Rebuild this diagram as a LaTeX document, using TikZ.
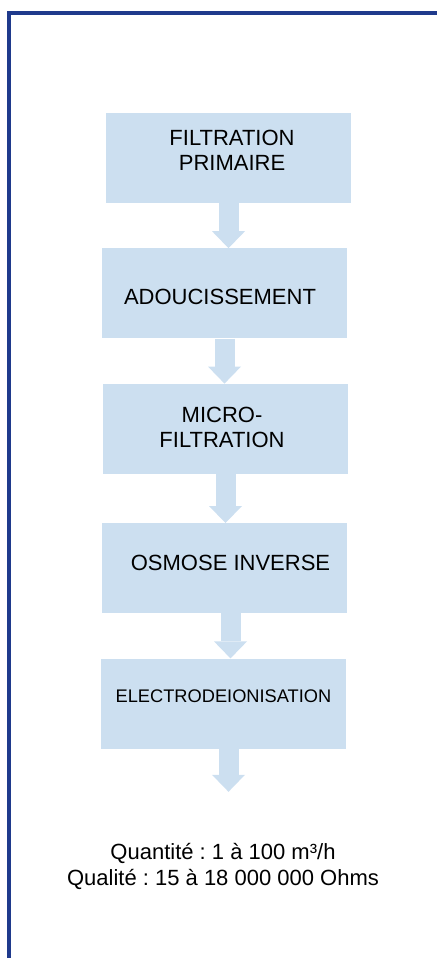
\documentclass[tikz,border=0pt]{standalone}
\usepackage{fontspec}
\setmainfont{Liberation Sans}
\usepackage{xcolor}
\usepackage{tikz}
\usetikzlibrary{arrows.meta,calc,positioning}
\definecolor{wtframe}{HTML}{1F3A8C}
\definecolor{wtfill}{HTML}{CCDFF0}
\frenchspacing
\tikzset{
  wtstage/.style={fill=wtfill,minimum width=245pt,minimum height=90pt,inner sep=0pt},
  wttext/.style={align=center,inner sep=0pt,font=\fontsize{22}{25}\selectfont,text=black},
  wtsmall/.style={wttext,font=\fontsize{18.25}{22}\selectfont},
  wtflow/.style={-{Triangle[length=17pt,width=33pt,line width=0pt]},line width=20pt,draw=wtfill},
  wtframeline/.style={draw=wtframe,line width=3.2pt},
  wtnote/.style={align=center,font=\fontsize{22}{26}\selectfont,text=black}
}

\begin{document}
\begin{tikzpicture}[x=1pt,y=-1pt,node distance=45pt]
    \useasboundingbox (0,0) rectangle (437,958);
    \draw[wtframeline] (9,958) -- (9,13) -- (437,13);
    \node[wtstage] (s1) at (228.5,158) {};
    \node[wtstage,below=of s1,xshift=-4pt] (s2) {};
    \node[wtstage,below=of s2,xshift=1pt] (s3) {};
    \node[wtstage,below=49pt of s3,xshift=-1pt] (s4) {};
    \node[wtstage,below=of s4,xshift=-1pt] (s5) {};
    \node[wttext] (t1) at ([xshift=3.5pt,yshift=7.5pt]s1.center) {FILTRATION\\PRIMAIRE};
    \node[wttext] (t2) at ([xshift=-4.5pt,yshift=-4pt]s2.center) {ADOUCISSEMENT};
    \node[wttext] (t3) at ([xshift=-3.5pt,yshift=1.5pt]s3.center) {MICRO-\\FILTRATION};
    \node[wttext] (t4) at ([xshift=6pt,yshift=5.5pt]s4.center) {OSMOSE INVERSE};
    \node[wtsmall] (t5) at ([yshift=7.5pt]s5.center) {ELECTRODEIONISATION};
    \coordinate (fin) at ([xshift=5pt,yshift=-43pt]s5.south);
    \draw[wtflow] (s1.south)--(s1.south |- s2.north);
    \draw[wtflow] (s2.south)--(s2.south |- s3.north);
    \draw[wtflow] (s3.south)--(s3.south |- s4.north);
    \draw[wtflow] ([xshift=6pt]s4.south)--([xshift=6pt]s4.south |- s5.north);
    \draw[wtflow] ([xshift=5pt]s5.south)--(fin);
    \node[wtnote] (spec) at (223,866) {Quantité : 1 à 100 m³/h\\Qualité : 15 à 18 000 000 Ohms};
  \end{tikzpicture}
\end{document}
